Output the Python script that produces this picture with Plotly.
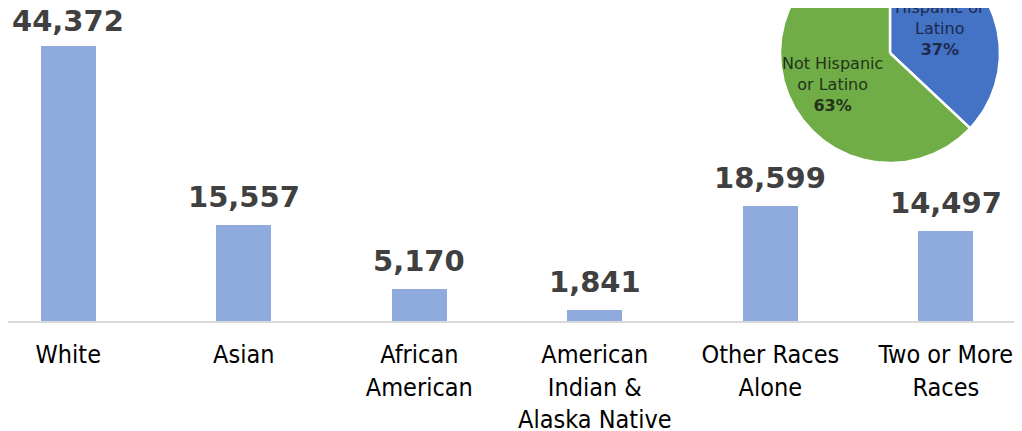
import numpy as np
import plotly.graph_objects as go

# ---- data ----
categories = ["White", "Asian", "African<br>American", "American<br>Indian &<br>Alaska Native",
              "Other Races<br>Alone", "Two or More<br>Races"]
population = [44372, 15557, 5170, 1841, 18599, 14497]

pie_labels = ["Hispanic or<br>Latino", "Not Hispanic<br>or Latino"]
pie_shares = [37, 63]

# ---- styling / layout constants ----
W, H = 1014, 423          # page body has an 8px margin
MB = 110
BAR_COLOR = "#8FAADC"
PIE_COLORS = ["#4472C4", "#70AD47"]
PIE_TEXT = ["#1c2b4d", "#22331a"]
PIE_CX, PIE_CY, PIE_R = 882, 45, 110          # pixels in plot area
PIE_LABEL_POS = [(0.455, 0.22), (-0.527, -0.282)]  # label centres, in radius units
VALUE_LABEL_SHIFT = [6, 9, 9, 9, 9, 9]        # px above bar top

fig = go.Figure()

fig.add_trace(go.Bar(
    x=list(range(len(categories))), y=population,
    marker=dict(color=BAR_COLOR, line=dict(width=0)),
    width=0.313, showlegend=False, hoverinfo="skip",
))

for i, v in enumerate(population):
    fig.add_annotation(x=i, y=v, xref="x", yref="y", text=f"{v:,}",
                       showarrow=False, yanchor="bottom", yshift=VALUE_LABEL_SHIFT[i],
                       font=dict(family="DejaVu Sans", size=29, color="#404040", weight="bold"))

# ---- pie drawn on overlaying axes (units of radius) ----
plot_h = H - MB
x2_range = [-PIE_CX / PIE_R, (W - PIE_CX) / PIE_R]
y2_range = [-(plot_h - PIE_CY) / PIE_R, PIE_CY / PIE_R]

total = sum(pie_shares)
start = 0.0
for k, (lab, share) in enumerate(zip(pie_labels, pie_shares)):
    a0 = start
    a1 = start + 360.0 * share / total
    ang = np.radians(np.linspace(a0, a1, 240))
    xs = np.concatenate([[0], np.sin(ang), [0]])
    ys = np.concatenate([[0], np.cos(ang), [0]])
    fig.add_trace(go.Scatter(
        x=xs, y=ys, xaxis="x2", yaxis="y2", mode="lines", fill="toself",
        fillcolor=PIE_COLORS[k], line=dict(color="white", width=2.5),
        showlegend=False, hoverinfo="skip",
    ))
    lx, ly = PIE_LABEL_POS[k]
    fig.add_annotation(x=lx, y=ly, xref="x2", yref="y2",
                       text=f"{lab}<br><b>{share}%</b>", showarrow=False,
                       font=dict(family="DejaVu Sans", size=16, color=PIE_TEXT[k]))
    start = a1

fig.update_layout(
    width=W, height=H,
    margin=dict(l=0, r=0, t=0, b=MB, autoexpand=False),
    paper_bgcolor="white", plot_bgcolor="white",
    bargap=0,
    xaxis=dict(range=[-0.3436, 5.434], tickmode="array", tickvals=list(range(len(categories))),
               ticktext=categories, showgrid=False, zeroline=False, automargin=False,
               showline=True, linecolor="#D9D9D9", linewidth=2, ticks="",
               ticklabelstandoff=10,
               tickfont=dict(family="DejaVu Sans Condensed", size=25, color="#000000")),
    yaxis=dict(range=[0, 50541], visible=False, showgrid=False, zeroline=False, automargin=False),
    xaxis2=dict(range=x2_range, visible=False, overlaying="x", anchor="y2"),
    yaxis2=dict(range=y2_range, visible=False, overlaying="y", anchor="x2"),
)

fig.write_html("out.html")
